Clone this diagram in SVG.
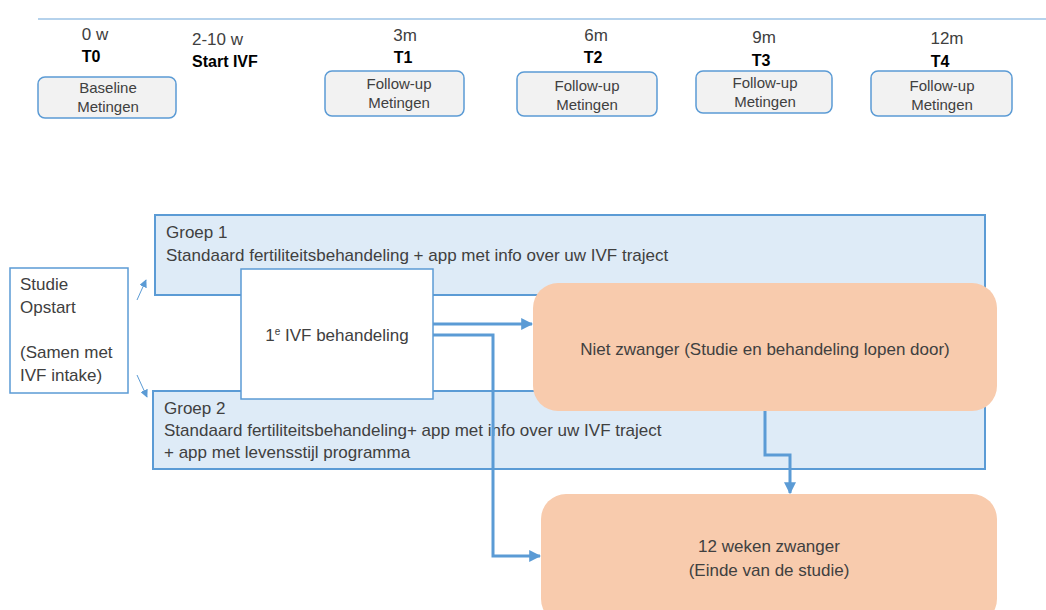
<svg xmlns="http://www.w3.org/2000/svg" width="1046" height="610" viewBox="0 0 1046 610">
<style>
text{font-family:"Liberation Sans",Arial,sans-serif;fill:#404040}
.tl{font-size:17px}
.tb{font-size:16px;font-weight:bold;fill:#000}
.bt{font-size:15px;text-anchor:middle}
.mbox{fill:#f2f2f2;stroke:#5b9bd5;stroke-width:1.5}
.grp{fill:#deebf7;stroke:#5b9bd5;stroke-width:2}
.wbox{fill:#fff;stroke:#5b9bd5;stroke-width:1.5}
.peach{fill:#f8cbad}
.t16{font-size:17px}
.c{text-anchor:middle}
.conn{fill:none;stroke:#5b9bd5;stroke-width:3}
.thin{fill:none;stroke:#5b9bd5;stroke-width:1}
</style>
<defs>
<marker id="ah" viewBox="0 0 10 10" refX="9" refY="5" markerWidth="4" markerHeight="4" orient="auto" markerUnits="strokeWidth">
<path d="M0,0 L10,5 L0,10 z" fill="#5b9bd5"/>
</marker>
<marker id="ahs" viewBox="0 0 10 10" refX="9" refY="5" markerWidth="8" markerHeight="8" orient="auto" markerUnits="strokeWidth">
<path d="M0,0 L10,5 L0,10 z" fill="#5b9bd5"/>
</marker>
</defs>

<line x1="38" y1="19" x2="1046" y2="19" stroke="#9dc3e6" stroke-width="1.5"/>

<g id="t0">
<text class="tl c" x="95" y="40">0 w</text>
<text class="tb c" x="91" y="62">T0</text>
<rect class="mbox" x="38" y="77" width="138" height="41" rx="7"/>
<text class="bt" x="108" y="93">Baseline</text>
<text class="bt" x="108" y="112">Metingen</text>
</g>
<g id="startivf">
<text class="tl" x="192" y="45">2-10 w</text>
<text class="tb" x="192" y="67">Start IVF</text>
</g>
<g id="t1">
<text class="tl c" x="405" y="41">3m</text>
<text class="tb c" x="403" y="63">T1</text>
<rect class="mbox" x="325" y="71" width="139" height="45" rx="7"/>
<text class="bt" x="399" y="89">Follow-up</text>
<text class="bt" x="399" y="108">Metingen</text>
</g>
<g id="t2">
<text class="tl c" x="596" y="41">6m</text>
<text class="tb c" x="593" y="63">T2</text>
<rect class="mbox" x="517" y="72" width="140" height="44" rx="7"/>
<text class="bt" x="587" y="91">Follow-up</text>
<text class="bt" x="587" y="110">Metingen</text>
</g>
<g id="t3">
<text class="tl c" x="764" y="43">9m</text>
<text class="tb c" x="761" y="66">T3</text>
<rect class="mbox" x="696" y="71" width="136" height="42" rx="7"/>
<text class="bt" x="765" y="88">Follow-up</text>
<text class="bt" x="765" y="107">Metingen</text>
</g>
<g id="t4">
<text class="tl c" x="947" y="44">12m</text>
<text class="tb c" x="940" y="67">T4</text>
<rect class="mbox" x="871" y="71" width="141" height="45" rx="7"/>
<text class="bt" x="942" y="91">Follow-up</text>
<text class="bt" x="942" y="110">Metingen</text>
</g>

<g id="groep1">
<rect class="grp" x="155" y="215" width="830" height="80"/>
<text class="t16" x="166" y="238">Groep 1</text>
<text class="t16" x="166" y="261">Standaard fertiliteitsbehandeling + app met info over uw IVF traject</text>
</g>
<g id="groep2">
<rect class="grp" x="153" y="391" width="832" height="78"/>
<text class="t16" x="164" y="414">Groep 2</text>
<text class="t16" x="164" y="436">Standaard fertiliteitsbehandeling+ app met info over uw IVF traject</text>
<text class="t16" x="164" y="458">+ app met levensstijl programma</text>
</g>
<g id="studie">
<rect class="wbox" x="10" y="268" width="118" height="125"/>
<text class="t16" x="20" y="290">Studie</text>
<text class="t16" x="20" y="313">Opstart</text>
<text class="t16" x="20" y="358">(Samen met</text>
<text class="t16" x="20" y="381">IVF intake)</text>
</g>
<g id="ivf1">
<rect class="wbox" x="241" y="269" width="192" height="130"/>
<text class="t16 c" x="337" y="341">1<tspan font-size="10" dy="-6">e</tspan><tspan dy="6"> IVF behandeling</tspan></text>
</g>
<g id="nietzwanger">
<rect class="peach" x="533" y="283" width="464" height="128" rx="25"/>
<text class="t16 c" x="765" y="355">Niet zwanger (Studie en behandeling lopen door)</text>
</g>
<g id="zwanger">
<rect class="peach" x="541" y="494" width="456" height="130" rx="25"/>
<text class="t16 c" x="769" y="552">12 weken zwanger</text>
<text class="t16 c" x="769" y="576">(Einde van de studie)</text>
</g>

<g id="connectors">
<line class="thin" x1="137" y1="300" x2="146" y2="280" marker-end="url(#ahs)"/>
<line class="thin" x1="137" y1="375" x2="147" y2="397" marker-end="url(#ahs)"/>
<path class="conn" d="M433,324 H532" marker-end="url(#ah)"/>
<path class="conn" d="M433,335 H493 V556 H540" marker-end="url(#ah)"/>
<path class="conn" d="M765,411 V455 H790 V493" marker-end="url(#ah)"/>
</g>
</svg>
